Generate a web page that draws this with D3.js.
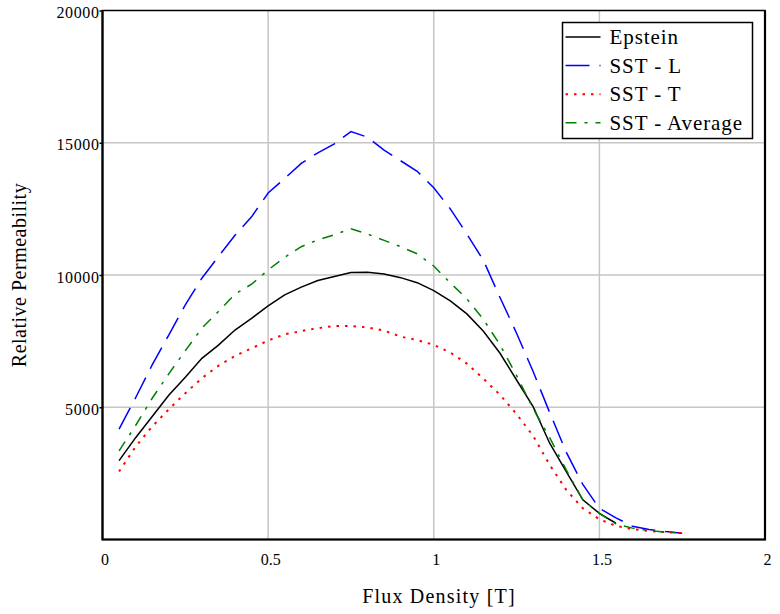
<!DOCTYPE html>
<html>
<head>
<meta charset="utf-8">
<script src="https://d3js.org/d3.v7.min.js"></script>
<style>
  body { margin: 0; background: #fff; }
  svg { font-family: "Liberation Serif", "Times New Roman", serif; }
</style>
</head>
<body>
<svg width="780" height="614"></svg>
<script>
  // Flux density points [T]
  const fluxDensity = [0.05, 0.1, 0.15, 0.2, 0.25, 0.3, 0.35, 0.4, 0.45, 0.5, 0.55, 0.6, 0.65, 0.7, 0.75, 0.8, 0.85, 0.9,
    0.95, 1.0, 1.05, 1.1, 1.15, 1.2, 1.25, 1.3, 1.35, 1.4, 1.45, 1.5, 1.55, 1.6, 1.65, 1.7, 1.75];

  // Relative permeability series (Epstein stops at 1.55 T)
  const epstein = [2980, 3850, 4650, 5450, 6130, 6850, 7350, 7920, 8360, 8830, 9250, 9540, 9790, 9940, 10090, 10100, 10040, 9900,
    9710, 9410, 9020, 8530, 7870, 7040, 6030, 5020, 3640, 2570, 1500, 990, 615];
  const sstL = [4170, 5360, 6600, 7730, 8870, 9880, 10700, 11500, 12200, 13100, 13650, 14220, 14620, 14960, 15420, 15210, 14720, 14320,
    13920, 13300, 12500, 11550, 10550, 9150, 7800, 6350, 4800, 3300, 2080, 1180, 820, 500, 380, 300, 240];
  const sstT = [2570, 3510, 4270, 4920, 5530, 6100, 6570, 6940, 7230, 7520, 7760, 7880, 7990, 8070, 8070, 8020, 7900, 7670,
    7540, 7360, 7070, 6650, 6080, 5470, 4740, 3920, 2820, 1875, 1180, 765, 515, 390, 325, 275, 240];
  const sstAvg = [3350, 4310, 5340, 6260, 7140, 7990, 8620, 9280, 9650, 10190, 10670, 11070, 11330, 11520, 11750, 11550, 11310, 11070,
    10800, 10340, 9700, 9100, 8320, 7360, 6200, 4950, 3850, 2630, 1500, 990, 590, 430, 340, 280, 240];

  const seriesNames = ['Epstein', 'SST - L', 'SST - T', 'SST - Average'];
  const seriesValues = [epstein, sstL, sstT, sstAvg];
  const seriesColors = ['#000000', '#0000ff', '#ff0000', '#008000'];
  const seriesDash = [null, '24,10', '2.5,6', '11,8,3,8'];

  const xTicks = [0, 0.5, 1, 1.5, 2];
  const yTicks = [5000, 10000, 15000, 20000];

  const margin = {top: 10.5, right: 15, bottom: 74.5, left: 102.5};
  const width = 780 - margin.left - margin.right;
  const height = 614 - margin.top - margin.bottom;

  const x = d3.scaleLinear().domain([0, 2]).range([0, width]);
  const y = d3.scaleLinear().domain([0, 20000]).range([height, 0]);

  const svg = d3.select('svg');
  const chart = svg.append('g').attr('transform', 'translate(' + margin.left + ',' + margin.top + ')');

  // grid
  chart.append('g').selectAll('line')
    .data(xTicks.filter(d => d > 0 && d < 2)).enter().append('line')
    .attr('x1', d => x(d)).attr('x2', d => x(d))
    .attr('y1', 0).attr('y2', height)
    .attr('stroke', '#c6c6c6').attr('stroke-width', 1.5);
  chart.append('g').selectAll('line')
    .data(yTicks.filter(d => d < 20000)).enter().append('line')
    .attr('y1', d => y(d)).attr('y2', d => y(d))
    .attr('x1', 0).attr('x2', width)
    .attr('stroke', '#c6c6c6').attr('stroke-width', 1.5);

  // axes (ticks + labels)
  const xAxis = d3.axisBottom(x).tickValues(xTicks).tickSize(0).tickPadding(12).tickFormat(d3.format(''));
  const yAxis = d3.axisLeft(y).tickValues(yTicks).tickSize(3).tickPadding(0).tickFormat(d3.format(''));

  const gx = chart.append('g').attr('transform', 'translate(0,' + height + ')').call(xAxis);
  gx.select('.domain').remove();
  gx.selectAll('text')
    .attr('font-family', '"Liberation Serif", serif')
    .attr('font-size', 16).attr('fill', '#000').attr('dx', 2).attr('dy', '0.85em');

  const gy = chart.append('g').call(yAxis);
  gy.select('.domain').remove();
  gy.selectAll('line').attr('stroke', '#000').attr('stroke-width', 1.5);
  gy.selectAll('text')
    .attr('font-family', '"Liberation Serif", serif')
    .attr('font-size', 16).attr('fill', '#000').attr('dy', '0.45em')
    .attr('letter-spacing', 0.6);

  // series lines
  const line = d3.line().x(d => x(d[0])).y(d => y(d[1]));
  seriesValues.forEach((vals, i) => {
    chart.append('path')
      .datum(vals.map((v, j) => [fluxDensity[j], v]))
      .attr('fill', 'none')
      .attr('stroke', seriesColors[i])
      .attr('stroke-width', i == 2 ? 2 : 1.5)
      .attr('stroke-dasharray', seriesDash[i])
      .attr('d', line);
  });

  // frame
  chart.append('rect')
    .attr('width', width).attr('height', height)
    .attr('fill', 'none').attr('stroke', '#000').attr('stroke-width', 1.5);
  chart.append('path')
    .attr('d', 'M0,0V' + height + 'H' + width + 'V0')
    .attr('fill', 'none').attr('stroke', '#000').attr('stroke-width', 2.2);

  // legend
  const lx = 562.5 - margin.left, ly = 22.5 - margin.top;
  const legend = chart.append('g').attr('transform', 'translate(' + lx + ',' + ly + ')');
  legend.append('rect')
    .attr('width', 190).attr('height', 116)
    .attr('fill', '#fff').attr('stroke', '#000').attr('stroke-width', 1.5);
  seriesNames.forEach((name, i) => {
    const yy = 14.5 + i * 28.6;
    legend.append('line')
      .attr('x1', 3).attr('x2', 38).attr('y1', yy).attr('y2', yy)
      .attr('stroke', seriesColors[i])
      .attr('stroke-width', i == 2 ? 2 : 1.5)
      .attr('stroke-dasharray', seriesDash[i]);
    legend.append('text')
      .attr('x', 47).attr('y', yy + 7)
      .attr('font-size', 21).attr('letter-spacing', 0.9)
      .text(name);
  });

  // axis titles
  svg.append('text')
    .attr('x', 439).attr('y', 603)
    .attr('text-anchor', 'middle')
    .attr('font-size', 20).attr('letter-spacing', 1.2)
    .text('Flux Density [T]');
  svg.append('text')
    .attr('transform', 'translate(26,275) rotate(-90)')
    .attr('text-anchor', 'middle')
    .attr('font-size', 20).attr('letter-spacing', 0.5)
    .text('Relative Permeability');
</script>
</body>
</html>
